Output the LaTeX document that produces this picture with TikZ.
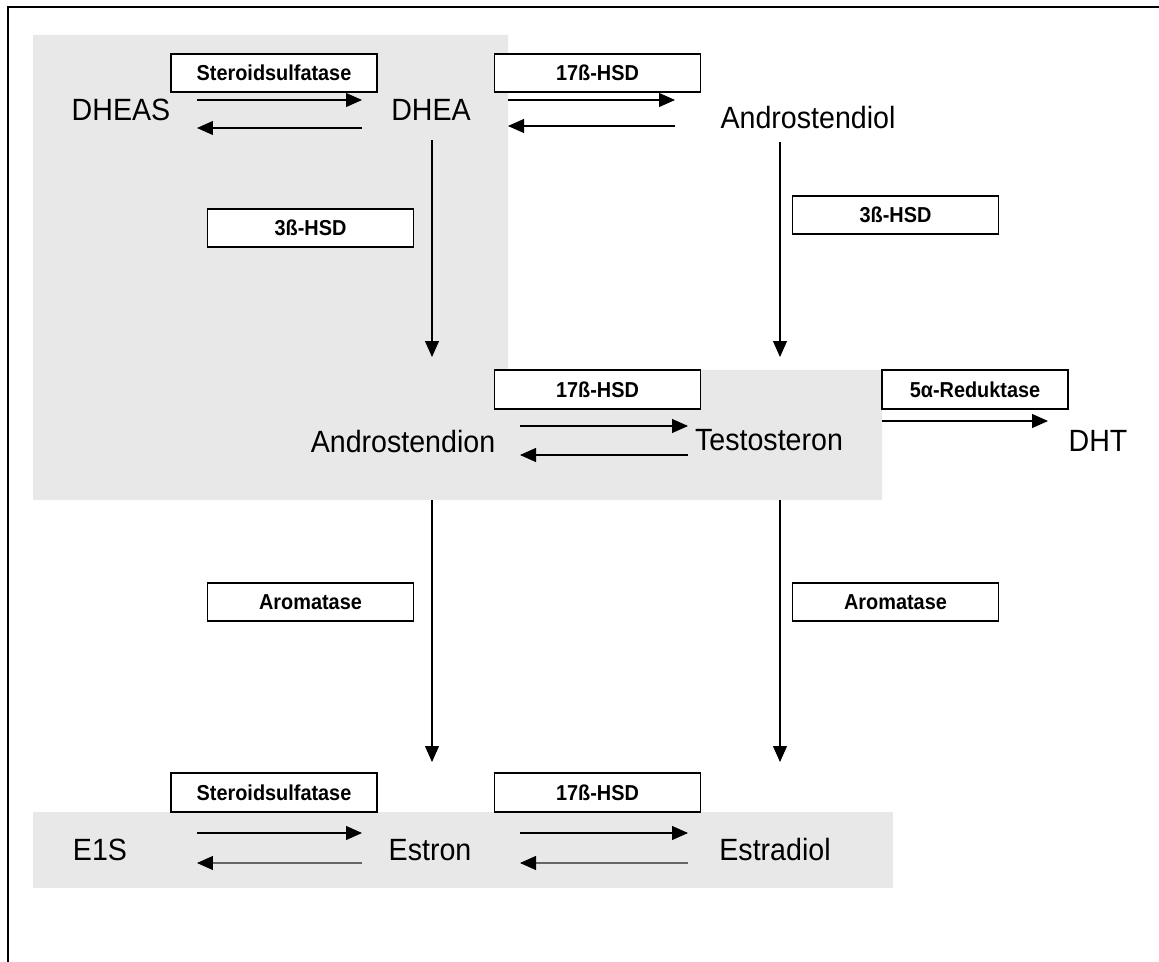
\documentclass[tikz,border=0pt]{standalone}
\usepackage{fontspec}
\setmainfont{Liberation Sans}
\newfontfamily\stofffont[FakeStretch=0.93]{Liberation Sans}
\newfontfamily\enzfont[FakeStretch=0.92]{Liberation Sans}
\usetikzlibrary{arrows.meta}

\definecolor{bggray}{RGB}{232,232,232}

\begin{document}
\begin{tikzpicture}[x=0.02cm,y=-0.02cm,>={Triangle[length=3.2mm,width=2.8mm]},
  stoff/.style={font=\stofffont\fontsize{17.5}{20}\selectfont},
  enzym/.style={draw,fill=white,line width=1pt,minimum width=4.12cm,minimum height=0.77cm,
                inner sep=0pt,font=\enzfont\fontsize{12.3}{14}\selectfont\bfseries},
  reakt/.style={->,line width=0.6pt},
  rueck/.style={reakt,draw=black!60,>={Triangle[length=3.2mm,width=2.8mm,color=black]}}]
\useasboundingbox (0,0) rectangle (1159,962);

% grey areas
\fill[bggray] (33,35) -- (508,35) -- (508,370) -- (882,370) -- (882,500) -- (33,500) -- cycle;
\fill[bggray] (33,812) rectangle (893,888);
\draw[line width=1.5pt] (8,962) -- (8,7) -- (1159,7);

% stoffe
\node[stoff] (dheas)  at (121,110) {DHEAS};
\node[stoff] (dhea)   at (431,110) {DHEA};
\node[stoff] (adiol)  at (808,118) {Androstendiol};
\node[stoff] (adion)  at (403,442) {Androstendion};
\node[stoff] (testo)  at (769,440) {Testosteron};
\node[stoff] (dht)    at (1098,441) {DHT};
\node[stoff] (eins)   at (100,850) {E1S};
\node[stoff] (estron) at (430,850) {Estron};
\node[stoff] (estra)  at (775,850) {Estradiol};

% enzyme
\node[enzym] (sulf_1) at (274,73)    {Steroidsulfatase};
\node[enzym] (hsd_1)  at (597.5,73)  {17ß-HSD};
\node[enzym] (hsd3_1) at (310.5,228) {3ß-HSD};
\node[enzym] (hsd3_2) at (895.5,215) {3ß-HSD};
\node[enzym] (hsd_2)  at (597.5,389.5) {17ß-HSD};
\node[enzym,minimum width=3.72cm] (red)  at (975,389.5) {5α-Reduktase};
\node[enzym] (arom_1) at (310.5,602) {Aromatase};
\node[enzym] (arom_2) at (895.5,602) {Aromatase};
\node[enzym] (sulf_2) at (274,792.5) {Steroidsulfatase};
\node[enzym] (hsd_3)  at (597.5,792.5) {17ß-HSD};

% reaktionen
\draw[reakt] ([shift={(76,-10)}]dheas.center) -- ([shift={(-69,-10)}]dhea.center);
\draw[reakt] ([shift={(-69,18)}]dhea.center) -- ([shift={(76,18)}]dheas.center);
\draw[reakt] ([shift={(77,-10)}]dhea.center) -- ([shift={(-133,-18)}]adiol.center);
\draw[reakt] ([shift={(-133,8)}]adiol.center) -- ([shift={(77,16)}]dhea.center);
\draw[reakt] ([shift={(1,30)}]dhea.center) -- ([shift={(29,-85)}]adion.center);
\draw[reakt] ([shift={(-28,24)}]adiol.center) -- ([shift={(11,-83)}]testo.center);
\draw[reakt] ([shift={(117,-16)}]adion.center) -- ([shift={(-81,-14)}]testo.center);
\draw[reakt] ([shift={(-81,15)}]testo.center) -- ([shift={(117,13)}]adion.center);
\draw[reakt] ([shift={(113,-19)}]testo.center) -- ([shift={(-50,-20)}]dht.center);
\draw[reakt] ([shift={(29,58)}]adion.center) -- ([shift={(2,-88)}]estron.center);
\draw[reakt] ([shift={(11,60)}]testo.center) -- ([shift={(5,-88)}]estra.center);
\draw[reakt] ([shift={(97,-17)}]eins.center) -- ([shift={(-68,-17)}]estron.center);
\draw[rueck] ([shift={(-68,13)}]estron.center) -- ([shift={(97,13)}]eins.center);
\draw[reakt] ([shift={(90,-17)}]estron.center) -- ([shift={(-87,-17)}]estra.center);
\draw[rueck] ([shift={(-87,13)}]estra.center) -- ([shift={(90,13)}]estron.center);
\end{tikzpicture}
\end{document}
